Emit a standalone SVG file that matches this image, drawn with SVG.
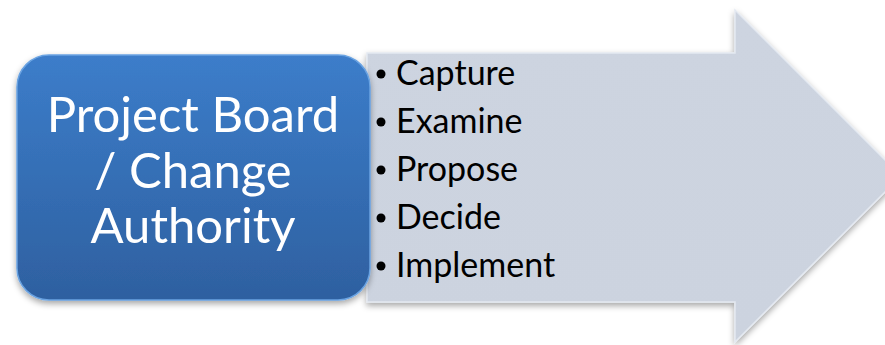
<svg xmlns="http://www.w3.org/2000/svg" width="885" height="345" viewBox="0 0 885 345">
<style>
.title{font-family:Lato,"Open Sans",sans-serif;font-size:49px;fill:#ffffff;text-anchor:middle}
.item{font-family:Lato,"Open Sans",sans-serif;font-size:34px;fill:#000000}
.dot{fill:#000000}
</style>
<defs>
<linearGradient id="blue" x1="0" y1="0" x2="0" y2="1">
<stop offset="0" stop-color="#3c7dca"/>
<stop offset="1" stop-color="#2e60a0"/>
</linearGradient>
<linearGradient id="grey" x1="0" y1="0" x2="0" y2="1">
<stop offset="0" stop-color="#cdd4e0"/>
<stop offset="1" stop-color="#ccd3df"/>
</linearGradient>
<filter id="sh" x="-10%" y="-10%" width="120%" height="130%">
<feDropShadow dx="0" dy="3" stdDeviation="3" flood-color="#000" flood-opacity="0.35"/>
</filter>
</defs>
<g id="arrow">
<path d="M367,53 L735,53 L735,10 L901,176 L735,342 L735,302 L367,302 Z" fill="url(#grey)" stroke="#e4e9f1" stroke-width="1.5" filter="url(#sh)"/>
<g id="items">
<circle class="dot" cx="381" cy="74" r="4.5"/>
<circle class="dot" cx="381" cy="122" r="4.5"/>
<circle class="dot" cx="381" cy="170" r="4.5"/>
<circle class="dot" cx="381" cy="218" r="4.5"/>
<circle class="dot" cx="381" cy="266" r="4.5"/>
<text class="item" x="396" y="85">Capture</text>
<text class="item" x="396" y="133">Examine</text>
<text class="item" x="396" y="181">Propose</text>
<text class="item" x="396" y="229">Decide</text>
<text class="item" x="396" y="277">Implement</text>
</g>
</g>
<g id="board">
<rect x="17" y="55" width="353" height="245" rx="32" ry="32" fill="url(#blue)" stroke="#6aa3e2" stroke-width="1.5" filter="url(#sh)"/>
<text class="title" x="193" y="132">Project Board</text>
<text class="title" x="193" y="188">/ Change</text>
<text class="title" x="193" y="243">Authority</text>
</g>
</svg>
